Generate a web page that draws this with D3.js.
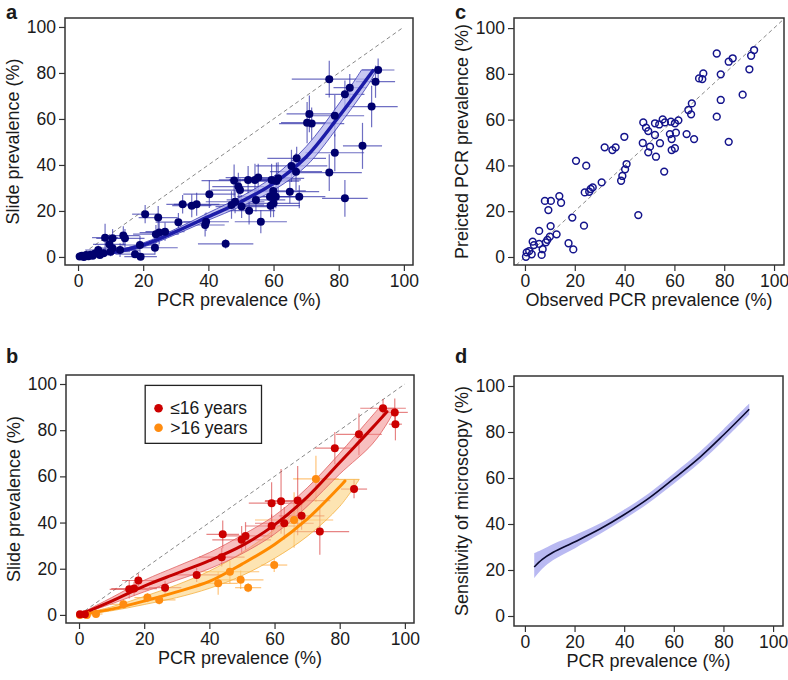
<!DOCTYPE html>
<html><head><meta charset="utf-8">
<script src="https://cdn.jsdelivr.net/npm/d3@7/dist/d3.min.js"></script>
<style>body{margin:0;background:#fff}svg{display:block}text{font-family:"Liberation Sans",Arial,Helvetica,sans-serif;fill:#1a1a1a}</style>
</head><body><svg id="c" width="788" height="680"></svg>
<script>
// ---------- DATA ----------
const ticks = [0, 20, 40, 60, 80, 100];
// panel a: [PCR, slide, xerr, yerr]
const aPoints = [[0.5,0.2,1,0.5],[1.2,0.5,1.5,0.6],[1.8,0,2,0.5],[2.5,0.8,2,1],[3.2,0.3,2.5,0.8],[3.8,1,3,1],[4.5,0.5,3,1],[5.2,1.5,3,1.5],[6.2,3,4,2],[6.7,0.9,4,1.5],[7.8,1.6,5,2],[8.3,8.4,4,6],[9.6,5.5,5,3],[10.6,3.8,5,3],[10,2.3,6,2],[10.6,8.1,5,4],[12.9,3,6,3],[13.9,9.3,5,4],[14.4,8.1,6,4],[17.5,1.2,6,2],[19.2,0.1,5,1.5],[19,5.2,6,4],[20.6,18.6,4,4],[23.6,4,7,3],[23.9,9.9,7,4],[24.9,10.6,6,5],[26.7,11,6,4],[24.6,17.1,6,5],[30.8,15.1,7,4],[32.1,22.9,5,4],[34.9,22.3,6,5],[36.4,22.9,7,5],[39,13.9,6,5],[39.3,15.3,7,4],[40.3,27.3,8,6],[45.3,5.7,8.5,2],[47.1,22.6,10,6],[47.9,33.2,10,7],[48.2,24,9,5],[49.2,30.6,8,6],[49.7,29.1,9,5],[50.2,21.9,8,5],[52.2,33.5,9,6],[52.5,20.1,8,6],[54.3,33.5,8,7],[54.6,24.8,9,5],[55.3,34.5,10,6],[56.1,15.3,8,5],[58.9,26.2,10,6],[59.4,33.5,9,7],[59.1,22.3,9,5],[60,23.3,8,6],[59.9,28.7,10,6],[60.7,26.2,8,5],[60.9,33,7,8],[61.4,34.2,8,7],[65,28.4,9,5],[65.5,39.6,11,7],[66.9,37.1,8,8],[67.1,42.9,9,5],[67.9,26.2,8,5],[70.3,58.4,8,9],[71,62.2,7,8],[71.7,58,10,7],[77.1,77.3,11.5,8],[77.1,36.7,10,8],[78.8,61.4,9,9],[78.8,45.3,9,8],[81.9,70.7,6,6],[81.9,25.5,7,8],[83.4,73.6,5,6],[87.3,48.3,6,10],[90.1,65.4,8,9],[91.3,76.2,6,7],[92.1,81.3,5,5]];
const aFit = [[0,0],[10,1.8],[20,5.2],[30,11],[40,17.5],[50,24],[60,32],[70,43.5],[80,61],[90.5,81]];
const aBandUpper = [[0,0.3],[10,2.3],[20,6.1],[30,12.2],[40,19.2],[50,26.2],[60,35],[70,48],[80,66.5],[87,81.3]];
const aBandLower = [[91.5,81.3],[90,77],[80,57],[70,39.5],[60,29],[50,22],[40,16],[30,9.8],[20,4.3],[10,1.3],[0,0]];

// panel b
const bYoung = [[0.3,0.3,1,0.5],[1.8,0.3,1.5,0.5],[15.4,11.1,6,4],[16.9,11.4,7,3],[18.2,14.9,5,3],[26.4,11.8,5,3],[36.1,17.3,8,3],[43.8,25,7,4],[44.1,34.9,5,6],[49.9,32.5,9,6],[51.1,34.2,8,6],[59.1,48.4,7,9],[62,49.2,5,14],[59.1,38.5,8,5],[63,39.7,9,7],[67.1,49.5,10,15],[68.3,42.9,7,6],[73.9,36.1,9,10],[78.5,72.2,6,7],[84.4,54.5,4,4],[85.9,78.2,7,9],[93.3,89.5,7,4],[96.9,87.7,4,6],[97.1,82.6,2,7]];
const bOld = [[0.3,0,1,0.5],[2.4,0,1.5,0.5],[5.2,0.4,2,3],[13.6,4.6,4,2],[21,7.5,4,2],[24.6,6.5,5,2],[42.7,13.7,6,5],[46.3,18.7,9,5],[49.6,15.2,7,4],[51.9,11.8,4,2],[59.9,21.6,4,3],[66,41.1,12,12],[72.7,58.9,7,10]];
const bYoungFit = [[0,0],[10,6],[20,12.5],[30,18],[40,23.5],[50,30],[60,39],[70,51],[80,66],[90,81],[94.5,88]];
const bYoungUpper = [[0,0.3],[10,7.5],[20,15],[30,21],[40,27],[50,34.5],[60,43],[70,55],[80,70],[88,83],[92,89.5]];
const bYoungLower = [[97,89.5],[95,84],[90,74],[80,61],[70,47],[60,35],[50,26.5],[40,20],[30,15],[20,10],[10,4.8],[0,0]];
const bOldFit = [[0,0],[10,2.5],[20,6],[30,10],[40,14.5],[50,22],[60,30.5],[70,41.5],[80,55.5],[81.6,58]];
const bOldUpper = [[0,0.3],[10,3.5],[20,8],[30,13],[40,19],[50,27],[60,37],[70,50],[75,58.7]];
const bOldLower = [[86,58.7],[80,47],[70,34],[60,24.5],[50,17],[40,11.5],[30,7.5],[20,4.5],[10,1.8],[0,0]];
const legendLabels = ["\u226416 years", ">16 years"];

// panel c: [observed, predicted]
const cPoints = [[0.4,0.1],[0.7,2],[1.7,2.6],[2.7,1.2],[3.6,5.2],[3.1,6.7],[5.7,11.4],[5.7,5.7],[6.7,0.9],[7.1,3.4],[8,24.5],[10.4,24.5],[9.4,20.5],[13.8,26.6],[14.5,23.7],[10.3,13.5],[8.4,6.4],[10,8.9],[12.7,9.9],[9,7.5],[17.5,6],[19.4,3.3],[19,17.2],[20.5,42],[23.7,13.7],[24,28.2],[24.6,39.9],[25.8,28.5],[26.4,29.7],[27.2,30.4],[30.8,32.6],[32,47.9],[35.1,46.7],[36.4,47.9],[38.6,33.3],[39.1,35.4],[39.9,52.5],[40.2,38.3],[40.8,40.6],[45.5,18.3],[47.5,58.8],[48.6,56.5],[49.5,55],[47.3,49.8],[50.2,48.2],[49.5,45.7],[52.6,43.8],[52.2,53.3],[52.2,58.4],[53.9,57.9],[55.3,60.1],[56.2,58.8],[54.2,49.7],[55.9,37.3],[58.6,59.1],[60.2,58.4],[61.6,59.7],[58.2,53.7],[60.6,54.3],[58.9,51.5],[58.9,46.7],[60.2,47.5],[64.9,53.7],[67.9,51.5],[65.6,64.2],[66.7,62.3],[67,67.1],[69.9,78],[71.2,77.7],[71.6,80.2],[77,88.9],[77,61.3],[78.6,79.8],[78.6,68.6],[81.8,85.3],[83.4,86.8],[81.8,50.3],[87.4,70.9],[90.1,82],[90.8,87.9],[92,90.4]];

// panel d: sensitivity curve [PCR, sens, lo, hi]
const dCurve = [[3.75,21.3,16.4,27.3],[7,24.6,20.5,28.9],[11.4,27.7,24.3,31.3],[20.2,32.3,29.5,35.2],[30.2,37.8,35.6,40.2],[39.6,43.8,41.8,46],[49.7,51,49,53.2],[60.1,59.8,57.6,62.1],[70.6,69.1,66.8,71.5],[80,78.7,76.3,81.2],[90.4,89.9,87.6,92.4]];

// ---------- DRAW ----------
const svg = d3.select("#c");
const FONT = '"Liberation Sans",Arial,Helvetica,sans-serif';

function panel(cfg) {
  const x = d3.scaleLinear().domain(cfg.xd).range([cfg.l, cfg.r]);
  const y = d3.scaleLinear().domain(cfg.yd).range([cfg.b, cfg.t]);
  const g = svg.append("g");
  const clipId = "clip" + cfg.letter;
  svg.append("clipPath").attr("id", clipId).append("rect")
    .attr("x", cfg.l).attr("y", cfg.t).attr("width", cfg.r - cfg.l).attr("height", cfg.b - cfg.t);
  const inner = g.append("g").attr("clip-path", `url(#${clipId})`);
  const xa = g.append("g").attr("transform", `translate(0,${cfg.b})`)
    .call(d3.axisBottom(x).tickValues(ticks).tickSize(6).tickPadding(4));
  const ya = g.append("g").attr("transform", `translate(${cfg.l},0)`)
    .call(d3.axisLeft(y).tickValues(ticks).tickSize(6).tickPadding(3));
  [xa, ya].forEach(a => {
    a.select(".domain").remove();
    a.selectAll("line").attr("stroke", "#333").attr("stroke-width", 1.2);
    a.selectAll("text").style("font-family", FONT).style("font-size", "17.5px").attr("fill", "#1a1a1a");
  });
  g.append("rect").attr("x", cfg.l).attr("y", cfg.t).attr("width", cfg.r - cfg.l).attr("height", cfg.b - cfg.t)
    .attr("fill", "none").attr("stroke", "#333").attr("stroke-width", 1.5);
  g.append("text").attr("x", (cfg.l + cfg.r) / 2).attr("y", cfg.b + 41).attr("text-anchor", "middle")
    .style("font-size", "18px").text(cfg.xt);
  g.append("text").attr("transform", `translate(${cfg.l - 46},${(cfg.t + cfg.b) / 2}) rotate(-90)`)
    .attr("text-anchor", "middle").style("font-size", "18px").text(cfg.yt);
  g.append("text").attr("x", cfg.lx).attr("y", cfg.ly).style("font-size", "20px").style("font-weight", "bold").text(cfg.letter);
  return {x, y, g, inner};
}

function diag(p, lo, hi) {
  p.inner.append("line").attr("x1", p.x(lo)).attr("y1", p.y(lo)).attr("x2", p.x(hi)).attr("y2", p.y(hi))
    .attr("stroke", "#888").attr("stroke-width", 1).attr("stroke-dasharray", "4,3");
}
function errbars(p, data, color) {
  const eg = p.inner.append("g").attr("stroke", color).attr("stroke-width", 1.2);
  data.forEach(d => {
    eg.append("line").attr("x1", p.x(d[0] - d[2])).attr("x2", p.x(d[0] + d[2])).attr("y1", p.y(d[1])).attr("y2", p.y(d[1]));
    eg.append("line").attr("x1", p.x(d[0])).attr("x2", p.x(d[0])).attr("y1", p.y(Math.max(0, d[1] - d[3]))).attr("y2", p.y(d[1] + d[3]));
  });
}
function band(p, upper, lower, fill, stroke, op) {
  const up = d3.line().x(d => p.x(d[0])).y(d => p.y(d[1])).curve(d3.curveCatmullRom)(upper);
  const lo = d3.line().x(d => p.x(d[0])).y(d => p.y(d[1])).curve(d3.curveCatmullRom)(lower);
  p.inner.append("path").attr("d", up + "L" + lo.slice(1) + "Z")
    .attr("fill", fill).attr("fill-opacity", op).attr("stroke", stroke).attr("stroke-width", 1).attr("stroke-opacity", 0.8);
}
function fitline(p, data, color, w) {
  p.inner.append("path").attr("d", d3.line().x(d => p.x(d[0])).y(d => p.y(d[1])).curve(d3.curveCatmullRom)(data))
    .attr("fill", "none").attr("stroke", color).attr("stroke-width", w).attr("stroke-linecap", "round");
}
function dots(p, data, color, r) {
  p.inner.append("g").selectAll("circle").data(data).join("circle")
    .attr("cx", d => p.x(d[0])).attr("cy", d => p.y(d[1])).attr("r", r).attr("fill", color);
}

// Panel a
const pa = panel({l:65, r:413, t:18, b:265, xd:[-4,102.8], yd:[-3.5,103.9], xt:"PCR prevalence (%)", yt:"Slide prevalence (%)", letter:"a", lx:6, ly:19});
diag(pa, 0, 100);
errbars(pa, aPoints, "rgba(50,50,170,0.7)");
band(pa, aBandUpper, aBandLower, "#b4b4ee", "#3a3ab4", 0.75);
fitline(pa, aFit, "#1c1ca8", 3.5);
dots(pa, aPoints, "#00006e", 4);

// Panel c
const pc = panel({l:514, r:784, t:18, b:265, xd:[-4.4,104], yd:[-3.5,104.4], xt:"Observed PCR prevalence (%)", yt:"Preicted PCR prevalence (%)", letter:"c", lx:455, ly:19});
diag(pc, -3.5, 104);
pc.inner.append("g").selectAll("circle").data(cPoints).join("circle")
  .attr("cx", d => pc.x(d[0])).attr("cy", d => pc.y(d[1])).attr("r", 3.4)
  .attr("fill", "none").attr("stroke", "#14148c").attr("stroke-width", 1.5);

// Panel b
const pb = panel({l:66, r:414, t:375, b:623, xd:[-4,102.8], yd:[-3.5,103.9], xt:"PCR prevalence (%)", yt:"Slide prevalence (%)", letter:"b", lx:6, ly:363});
diag(pb, 0, 100);
errbars(pb, bOld, "rgba(255,165,50,0.65)");
errbars(pb, bYoung, "rgba(215,50,50,0.6)");
band(pb, bOldUpper, bOldLower, "#fbd27e", "#f5b040", 0.6);
band(pb, bYoungUpper, bYoungLower, "#f28a8a", "#e06060", 0.55);
fitline(pb, bOldFit, "#ff8a00", 3);
fitline(pb, bYoungFit, "#c40000", 3);
dots(pb, bOld, "#ff8c10", 4);
dots(pb, bYoung, "#cc0000", 4);
const lg = pb.g.append("g");
lg.append("rect").attr("x", pb.x(20.3)).attr("y", pb.y(99.4)).attr("width", pb.x(56) - pb.x(20.3)).attr("height", pb.y(74.3) - pb.y(99.4))
  .attr("fill", "#fff").attr("stroke", "#222").attr("stroke-width", 1.3);
[["#cc0000", 0], ["#ff8c10", 1]].forEach(([c, i]) => {
  const yy = pb.y(89.5) + i * 19.5;
  lg.append("circle").attr("cx", pb.x(24.4)).attr("cy", yy).attr("r", 4.3).attr("fill", c);
  lg.append("text").attr("x", pb.x(28)).attr("y", yy + 6).style("font-size", "17.5px").text(legendLabels[i]);
});

// Panel d
const pd = panel({l:514, r:783, t:376, b:626, xd:[-4.4,104], yd:[-4.35,104.35], xt:"PCR prevalence (%)", yt:"Sensitivity of microscopy (%)", letter:"d", lx:455, ly:363});
pd.inner.append("path").attr("d", d3.area().x(d => pd.x(d[0])).y0(d => pd.y(d[2])).y1(d => pd.y(d[3])).curve(d3.curveCatmullRom)(dCurve))
  .attr("fill", "#b9b9f2");
pd.inner.append("path").attr("d", d3.line().x(d => pd.x(d[0])).y(d => pd.y(d[1])).curve(d3.curveCatmullRom)(dCurve))
  .attr("fill", "none").attr("stroke", "#0a0a2e").attr("stroke-width", 1.6);
</script></body></html>
